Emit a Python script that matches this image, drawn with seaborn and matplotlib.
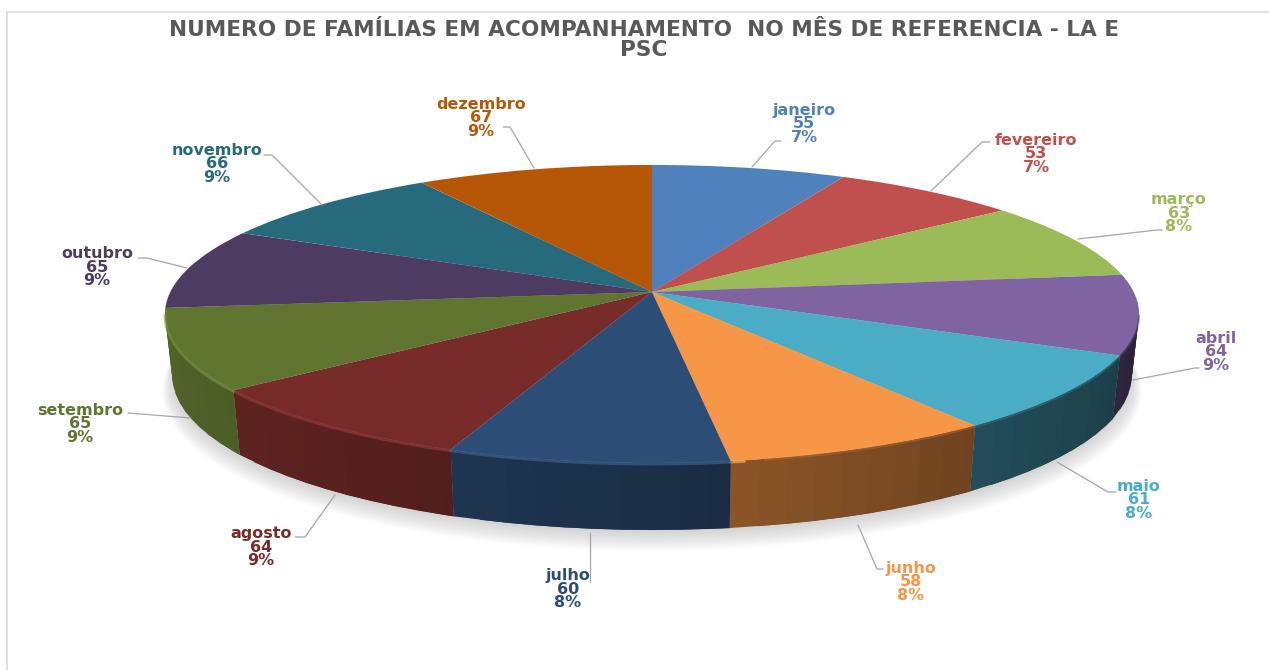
import numpy as np
import matplotlib
matplotlib.use("Agg")
import matplotlib.pyplot as plt
import matplotlib.transforms as mtrans
import seaborn as sns

# data
meses = ["janeiro", "fevereiro", "março", "abril", "maio", "junho", "julho",
         "agosto", "setembro", "outubro", "novembro", "dezembro"]
familias = [55, 53, 63, 64, 61, 58, 60, 64, 65, 65, 66, 67]
percentuais = ["7%", "7%", "8%", "9%", "8%", "8%", "8%", "9%", "9%", "9%", "9%", "9%"]
titulo = "NUMERO DE FAMÍLIAS EM ACOMPANHAMENTO  NO MÊS DE REFERENCIA - LA E\nPSC"

cores = sns.color_palette(["#4F81BD", "#C0504D", "#9BBB59", "#8064A2", "#4BACC6", "#F79646",
                           "#2C4D75", "#772C2A", "#5F7530", "#4D3B62", "#276A7C", "#B65708"])

# label centres and leader lines, in pixels of the picture
pos_rotulos = [(804, 124), (1036, 154), (1179, 213), (1216, 352), (1139, 500), (911, 582),
               (568, 589), (261, 547), (80, 424), (97, 267), (217, 164), (481, 118)]
guias = [[(752, 167), (775, 141), (781, 141)],
         [(931, 191), (982, 142), (990, 142)],
         [(1078, 239), (1157, 230), (1162, 230)],
         [(1133, 380), (1195, 368), (1199, 368)],
         [(1057, 462), (1108, 492), (1116, 492)],
         [(858, 525), (877, 569), (883, 569)],
         [(590, 533), (590, 582)],
         [(335, 495), (305, 537), (295, 537)],
         [(191, 418), (128, 413)],
         [(187, 268), (147, 258), (138, 258)],
         [(322, 205), (272, 155), (264, 155)],
         [(534, 168), (510, 127), (503, 127)]]

# perspective of the disc
cx, cy = 652, 292
k = 0.1477
a = 145.8
b = 481.7


def projeta(u, v, z=0.0):
    # z=0 is the top of the disc, z=1 the bottom
    u = np.asarray(u, dtype=float)
    v = np.asarray(v, dtype=float)
    d = 1 + k * v
    esc = 1 - 0.015 * z
    x = cx + b * esc * u / d
    y = cy - a * v / d + z * (61 - 6 * v)
    return x, y


class Perspectiva(mtrans.Transform):
    input_dims = 2
    output_dims = 2
    has_inverse = False

    def transform_non_affine(self, values):
        values = np.asarray(values)
        x, y = projeta(values[:, 0], values[:, 1])
        return np.column_stack([x, y])


sns.set_theme(style="white")
plt.rcParams["font.family"] = ["DejaVu Sans"]

fig = plt.figure(figsize=(12.69, 6.70), dpi=100)
ax = fig.add_axes([0, 0, 1, 1])

wedges, _ = ax.pie(familias, colors=cores, startangle=90, counterclock=False, radius=1)
ax.set_aspect("auto")
ax.set_xlim(0, 1269)
ax.set_ylim(670, 0)
ax.axis("off")

# frame of the original sheet
ax.plot([7, 1269], [12, 12], color="#D9D9D9", lw=1.2, zorder=1)
ax.plot([7, 7], [12, 670], color="#D9D9D9", lw=1.2, zorder=1)

# soft shadow below the disc
t = np.radians(np.linspace(0, 360, 361))
for i in range(14):
    e = 0.995 + 0.0022 * i
    xs, ys = projeta(e * np.cos(t), e * np.sin(t), 1 + 0.018 * i)
    ax.fill(xs, ys, color="#8A8A8A", alpha=0.03, lw=0, zorder=2)

# side wall, strip by strip, darker towards the right
for w, cor in zip(wedges, cores):
    w.set_transform(Perspectiva() + ax.transData)
    w.set_zorder(5)
    w.set_linewidth(0)
    ang = np.radians(np.arange(w.theta1, w.theta2 + 3, 3))
    ang[-1] = np.radians(w.theta2)
    for j, (t0, t1) in enumerate(zip(ang[:-1], ang[1:])):
        if np.sin(t0) > -k and np.sin(t1) > -k:
            continue
        # each strip runs a little under the next one, so no seam shows
        fim = ang[min(j + 2, len(ang) - 1)]
        x0, y0 = projeta(np.cos([t0, fim]), np.sin([t0, fim]), 0)
        x1, y1 = projeta(np.cos([fim, t0]), np.sin([fim, t0]), 1)
        fator = 0.6 - 0.25 * np.cos((t0 + t1) / 2)
        tom = tuple(c * fator for c in cor)
        ax.fill(np.r_[x0, x1], np.r_[y0, y1], color=tom, lw=0, zorder=3)
    # bevel on the rim
    arco = np.radians(np.linspace(w.theta1, w.theta2, 80))
    arco = arco[np.sin(arco) < -k]
    if len(arco) > 1:
        xr, yr = projeta(np.cos(arco), np.sin(arco))
        esq = np.cos(arco) < 0.17
        dir_ = np.cos(arco) > 0.2
        if esq.sum() > 1:
            claro = tuple(min(1, c * 1.2 + 0.04) for c in cor)
            ax.plot(xr[esq], yr[esq] + 1, color=claro, lw=2, alpha=0.6, zorder=6)
        if dir_.sum() > 1:
            ax.plot(xr[dir_], yr[dir_] + 1, color=tuple(c * 0.7 for c in cor), lw=1.5, alpha=0.5, zorder=6)

# leader lines and labels
for mes, n, pct, cor, p, g in zip(meses, familias, percentuais, cores, pos_rotulos, guias):
    gx, gy = zip(*g)
    ax.plot(gx, gy, color="#A6A6A6", lw=0.9, zorder=7)
    ax.text(p[0], p[1], f"{mes}\n{n}\n{pct}", color=cor, ha="center", va="center",
            fontsize=11.5, fontweight="bold", linespacing=0.88, zorder=8)

ax.text(644, 40, titulo, color="#595959", ha="center", va="center", fontsize=15.6,
        fontweight="bold", linespacing=0.95, zorder=8)

fig.savefig("out.png", dpi=100)
